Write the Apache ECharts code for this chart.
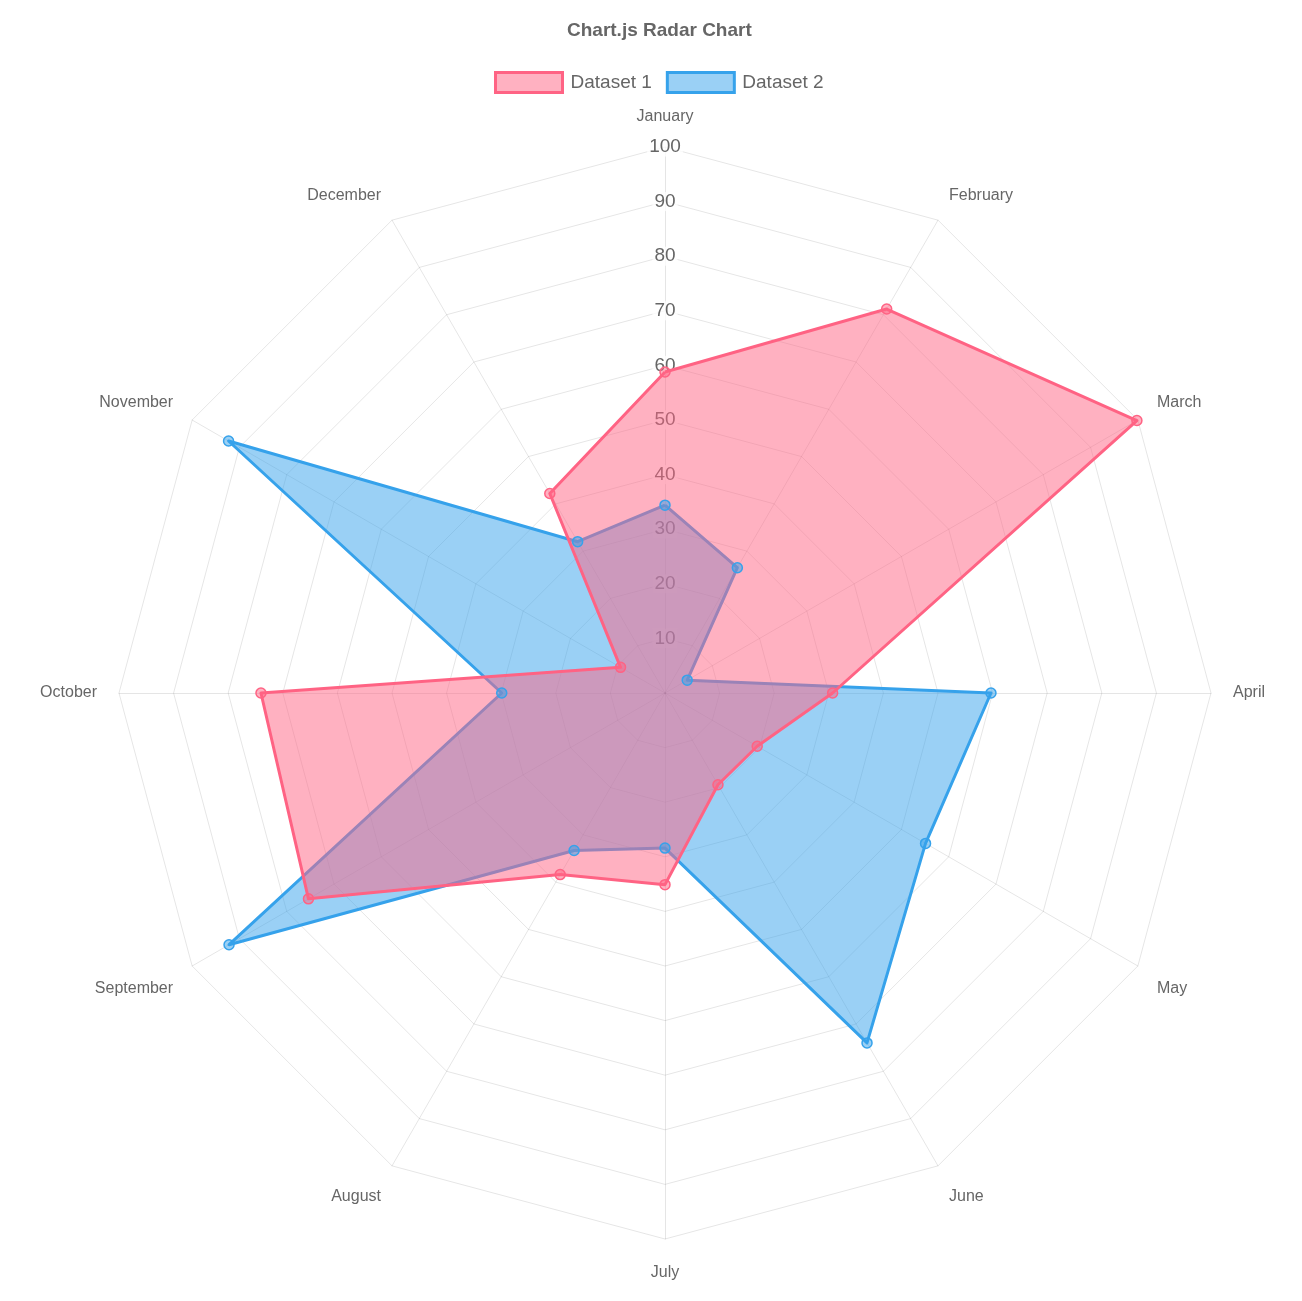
<!DOCTYPE html>
<html>

<head>
    <meta charset="utf-8">
    <script src="https://cdn.jsdelivr.net/npm/echarts@6/dist/echarts.min.js"></script>
    <style>
        html, body { margin: 0; padding: 0; background: #fff; }
        #main { width: 1302px; height: 1301px; }
    </style>
</head>

<body>
    <div id="main"></div>
</body>
<script>
    var months = ['January', 'February', 'March', 'April', 'May', 'June',
        'July', 'August', 'September', 'October', 'November', 'December'];
    var dataset1 = [58.8, 81.2, 99.8, 30.7, 19.5, 19.4, 35.1, 38.4, 75.4, 74.0, 9.4, 42.2];
    var dataset2 = [34.4, 26.5, 4.7, 59.7, 55.1, 74.0, 28.4, 33.3, 92.2, 29.9, 92.3, 32.0];

    // echarts lays indicators out counter-clockwise, chart.js goes clockwise
    var order = [0, 11, 10, 9, 8, 7, 6, 5, 4, 3, 2, 1];
    function pick(arr) {
        return order.map(function (i) { return arr[i]; });
    }

    var textColor = '#666';
    var gridColor = 'rgba(0,0,0,0.1)';
    var font = 'Liberation Sans, Helvetica, Arial, sans-serif';

    // chart.js pushes the diagonal point labels a bit further up / down
    var upper = ['February', 'March', 'November', 'December'];
    var lower = ['May', 'June', 'August', 'September'];

    var indicator = order.map(function (i, k) {
        var ind = { name: months[i], min: 0, max: 100 };
        if (k === 0) {
            ind.axisLabel = { show: true };
        }
        return ind;
    });

    var myChart = echarts.init(document.getElementById('main'));
    myChart.setOption({
        animation: false,
        textStyle: { fontFamily: font },
        title: {
            text: 'Chart.js Radar Chart',
            left: 562,
            top: 16,
            textStyle: { color: textColor, fontSize: 19, fontWeight: 'bold', fontFamily: font }
        },
        legend: {
            left: 489,
            top: 66,
            icon: 'rect',
            itemWidth: 67,
            itemHeight: 20,
            itemGap: 14,
            textStyle: { color: textColor, fontSize: 19, fontFamily: font, padding: [0, 0, 0, 3] },
            data: [
                { name: 'Dataset 1', itemStyle: { color: 'rgba(255,99,132,0.5)', borderColor: 'rgb(255,99,132)', borderWidth: 3 } },
                { name: 'Dataset 2', itemStyle: { color: 'rgba(54,162,235,0.5)', borderColor: 'rgb(54,162,235)', borderWidth: 3 } }
            ]
        },
        radar: {
            center: [665, 693],
            radius: 546,
            shape: 'polygon',
            splitNumber: 10,
            nameGap: 22,
            indicator: indicator,
            axisName: {
                color: textColor,
                fontSize: 16,
                fontFamily: font,
                formatter: function (name) {
                    if (upper.indexOf(name) >= 0) return '{up|' + name + '}';
                    if (lower.indexOf(name) >= 0) return '{down|' + name + '}';
                    if (name === 'July') return '{bot|' + name + '}';
                    return name;
                },
                rich: {
                    up: { color: textColor, fontSize: 16, fontFamily: font, padding: [0, 0, 12, 0] },
                    down: { color: textColor, fontSize: 16, fontFamily: font, padding: [23, 0, 0, 0] },
                    bot: { color: textColor, fontSize: 16, fontFamily: font, padding: [4, 0, 0, 0] }
                }
            },
            axisLine: { lineStyle: { color: gridColor } },
            splitLine: { lineStyle: { color: gridColor } },
            splitArea: { show: false },
            axisTick: { show: false },
            axisLabel: {
                show: false,
                showMinLabel: false,
                margin: 0,
                align: 'center',
                verticalAlign: 'middle',
                color: textColor,
                fontSize: 19,
                fontFamily: font,
                backgroundColor: 'rgba(255,255,255,0.75)',
                padding: [0, 2]
            }
        },
        series: [{
            type: 'radar',
            symbol: 'circle',
            symbolSize: 10,
            data: [{
                name: 'Dataset 2',
                value: pick(dataset2),
                itemStyle: { color: 'rgba(54,162,235,0.5)', borderColor: 'rgb(54,162,235)', borderWidth: 1.5 },
                lineStyle: { color: 'rgb(54,162,235)', width: 3 },
                areaStyle: { color: 'rgba(54,162,235,0.5)', opacity: 1 }
            }, {
                name: 'Dataset 1',
                value: pick(dataset1),
                itemStyle: { color: 'rgba(255,99,132,0.5)', borderColor: 'rgb(255,99,132)', borderWidth: 1.5 },
                lineStyle: { color: 'rgb(255,99,132)', width: 3 },
                areaStyle: { color: 'rgba(255,99,132,0.5)', opacity: 1 }
            }]
        }]
    });
</script>

</html>
